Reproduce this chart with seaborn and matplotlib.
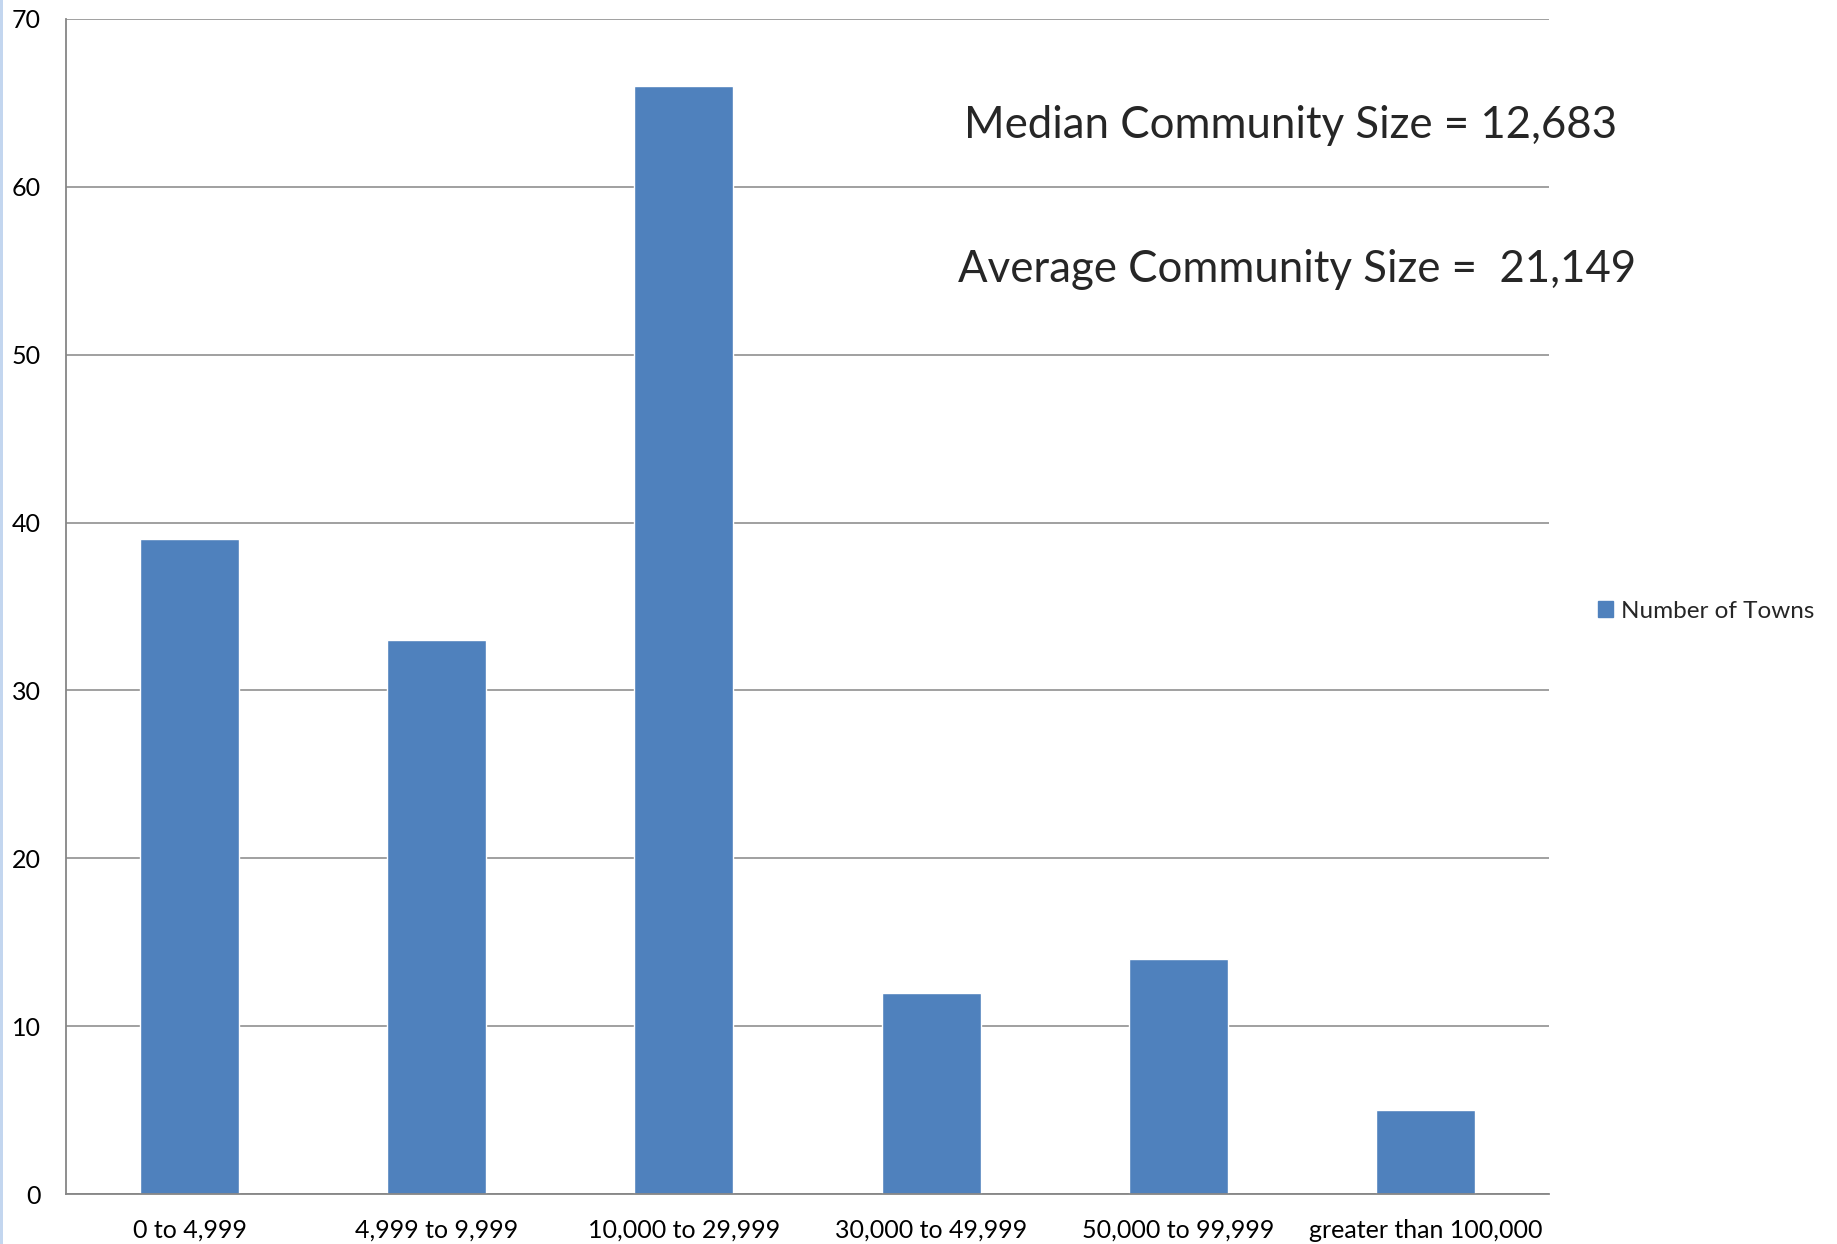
import matplotlib
matplotlib.use("Agg")
import matplotlib.pyplot as plt
import seaborn as sns
import pandas as pd
from matplotlib.patches import Patch, Rectangle

categories = ["0 to 4,999", "4,999 to 9,999", "10,000 to 29,999",
              "30,000 to 49,999", "50,000 to 99,999", "greater than 100,000"]
towns = [39, 33, 66, 12, 14, 5]
yticks = [0, 10, 20, 30, 40, 50, 60, 70]
series_name = "Number of Towns"
median_text = "Median Community Size = 12,683"
average_text = "Average Community Size =  21,149"

sns.set_style("white")
plt.rcParams["font.family"] = ["Lato", "DejaVu Sans"]

BAR = "#4F81BD"
GRID = "#868686"

df = pd.DataFrame({"cat": categories, "val": towns})

W, H = 1837, 1244
fig = plt.figure(figsize=(W / 100, H / 100), dpi=100)
ax = fig.add_axes([66 / W, 1 - 1194 / H, (1549 - 66) / W, (1194 - 19) / H])

sns.barplot(data=df, x="cat", y="val", color=BAR, width=0.4, ax=ax,
            saturation=1, order=categories)

ax.set_xlim(-0.5, len(categories) - 0.5)
ax.set_ylim(0, 70)
ax.set_yticks(yticks)
ax.set_yticklabels([str(v) for v in yticks])
ax.set_xlabel("")
ax.set_ylabel("")
ax.set_axisbelow(True)
ax.yaxis.grid(True, color=GRID, linewidth=1.1)
ax.xaxis.grid(False)

for s in ["top", "right"]:
    ax.spines[s].set_visible(False)
for s in ["left", "bottom"]:
    ax.spines[s].set_visible(True)
    ax.spines[s].set_color(GRID)
    ax.spines[s].set_linewidth(1.3)

ax.set_xticks(range(len(categories)))
ax.set_xticklabels(categories)
ax.set_xticks([i - 0.5 for i in range(len(categories) + 1)], minor=True)
ax.tick_params(axis="x", which="major", length=0, labelsize=18, pad=18, colors="black")
ax.tick_params(axis="x", which="minor", length=6, width=1.3, color=GRID, direction="out")
ax.tick_params(axis="y", which="major", length=6, width=1.3, color=GRID, labelsize=18,
               pad=12, direction="out", labelcolor="black")

fig.text(1291 / W, 1 - 125 / H, median_text, fontsize=31.5, ha="center", va="center")
fig.text(1297 / W, 1 - 270 / H, average_text, fontsize=31.5, ha="center", va="center")

handle = Patch(facecolor=BAR, edgecolor=BAR)
fig.legend([handle], [series_name], loc="center left",
           bbox_to_anchor=(1598 / W, 1 - 611 / H), frameon=False, fontsize=17.5,
           handlelength=0.6, handleheight=0.6, handletextpad=0.35, borderpad=0,
           borderaxespad=0)

fig.patches.append(Rectangle((0, 0), 3 / W, 1, transform=fig.transFigure,
                             facecolor="#c3d6ef", edgecolor="none"))

fig.savefig("out.png", dpi=100, facecolor="white")
